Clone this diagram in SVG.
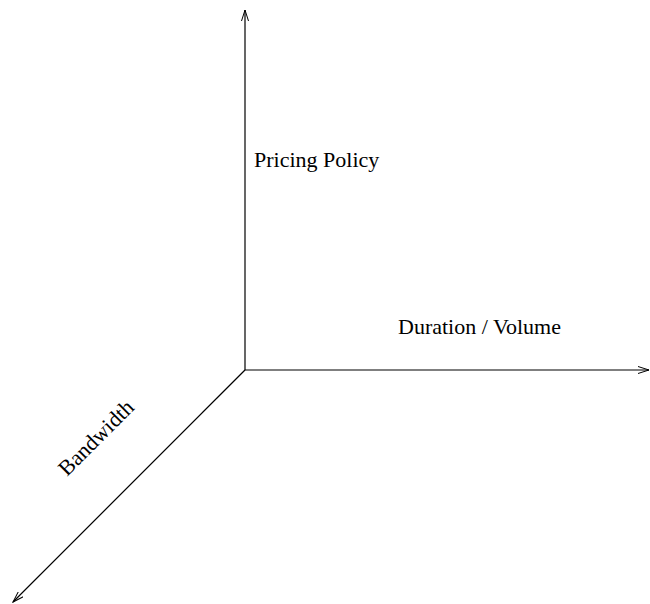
<svg xmlns="http://www.w3.org/2000/svg" width="650" height="604" viewBox="0 0 650 604">
<defs>
<marker id="arr" markerWidth="12" markerHeight="8" refX="11" refY="4" orient="auto" markerUnits="userSpaceOnUse">
<path d="M0,0.5 L11,4 L0,7.5" fill="none" stroke="#000" stroke-width="1"/>
</marker>
</defs>
<style>
.ax{stroke:#000;stroke-width:1.2;fill:none}
.lb{font-family:"Liberation Serif",serif;font-size:22px;fill:#000}
</style>
<rect width="650" height="604" fill="#fff"/>
<g id="connectors">
<line class="ax" x1="245" y1="370" x2="245" y2="10" marker-end="url(#arr)"/>
<line class="ax" x1="245" y1="370" x2="649" y2="370" marker-end="url(#arr)"/>
<line class="ax" x1="245" y1="370" x2="13" y2="602" marker-end="url(#arr)"/>
</g>
<g id="pricing"><text class="lb" x="254" y="167">Pricing Policy</text></g>
<g id="duration"><text class="lb" x="398" y="334">Duration / Volume</text></g>
<g id="bandwidth"><text class="lb" transform="translate(67,477) rotate(-45)">Bandwidth</text></g>
</svg>
